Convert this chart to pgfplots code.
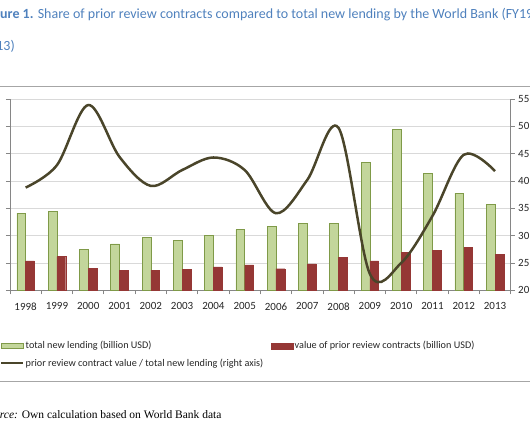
\documentclass[border=0pt]{standalone}
\usepackage{pgfplots}
\usepackage{pgfplotstable}
\pgfplotsset{compat=1.18}
\usepackage{fontspec}
\setmainfont{Carlito}
\newfontfamily\srcfont{Liberation Serif}
\definecolor{lendgreen}{HTML}{C3D69B}
\definecolor{lendedge}{HTML}{7F9A48}
\definecolor{priorred}{HTML}{953735}
\definecolor{ratioline}{HTML}{4A452A}
\definecolor{titleblue}{HTML}{4F81BD}
\definecolor{gridgray}{HTML}{D9D9D9}
\definecolor{axisgray}{HTML}{868686}
\definecolor{framegray}{HTML}{A6A6A6}
\definecolor{labelgray}{HTML}{262626}

\pgfplotstableread{
x year lending prior ratio
0  1998 28.2 10.8 38.8
1  1999 29.0 12.3 42.9
2  2000 15.1  8.0 53.9
3  2001 17.0  7.4 44.4
4  2002 19.4  7.4 39.1
5  2003 18.4  7.7 42.0
6  2004 20.0  8.6 44.3
7  2005 22.2  9.3 42.0
8  2006 23.5  7.9 34.1
9  2007 24.5  9.7 40.2
10 2008 24.5 12.1 49.7
11 2009 46.9 10.8 23.0
12 2010 58.8 13.9 25.0
13 2011 42.9 14.6 33.6
14 2012 35.6 15.7 44.8
15 2013 31.3 13.2 41.8
}\wbdata

\begin{document}
\begin{tikzpicture}[x=1pt,y=1pt]
\path[use as bounding box] (0,0) rectangle (530,442);
\clip (0,0) rectangle (530,442);
\draw[framegray, line width=0.8pt] (-20,61) rectangle (560,356);
\node[anchor=base west, inner sep=0pt, text=titleblue, font=\fontsize{14}{16}\selectfont] at (-16.5,423)
  {\textbf{Figure 1.} Share of prior review contracts compared to total new lending by the World Bank (FY1998--};
\node[anchor=base west, inner sep=0pt, text=titleblue, font=\fontsize{14}{16}\selectfont] at (-18,391) {2013)};

\begin{axis}[
  at={(10pt,151.7pt)}, anchor=south west, scale only axis,
  width=500.7pt, height=191.3pt,
  xmin=-0.5, xmax=15.5, ymin=0, ymax=70,
  ytick={0,10,...,70}, yticklabels={},
  xtick={-0.5,0.5,...,15.5}, x tick label as interval,
  xticklabels={1998,1999,2000,2001,2002,2003,2004,2005,2006,2007,2008,2009,2010,2011,2012,2013},
  axis x line*=bottom, axis y line*=left,
  ymajorgrids, grid style={gridgray, line width=0.8pt},
  axis line style={axisgray, line width=0.8pt},
  tick style={axisgray, line width=0.8pt},
  tick align=outside, major tick length=4pt,
  ybar=0pt, bar width=8.8pt,
  ticklabel style={font=\fontsize{11}{12}\selectfont, text=labelgray},
  xticklabel style={yshift=-5pt},
  legend columns=2, legend cell align=left,
  legend style={at={(-0.02,-0.26)}, anchor=north west, draw=none, fill=none,
    font=\fontsize{10.2}{12}\selectfont, text=labelgray, inner sep=0pt, row sep=6.5pt,
    nodes={inner sep=1pt},
    /tikz/every even column/.append style={column sep=7pt}},
]
\addplot[fill=lendgreen, draw=lendedge, line width=0.6pt,
  legend image code/.code={\draw[fill=lendgreen, draw=lendedge, line width=0.6pt] (0pt,-2.3pt) rectangle (22pt,2.3pt);}]
  table[x=x, y=lending] {\wbdata};
\addlegendentry{total new lending (billion USD)}
\addplot[fill=priorred, draw=priorred, line width=0.4pt,
  legend image code/.code={\draw[fill=priorred, draw=priorred] (0pt,-3pt) rectangle (22pt,3pt);}]
  table[x=x, y=prior] {\wbdata};
\addlegendentry{value of prior review contracts (billion USD)}
\addlegendimage{ratioline, line width=2.5pt, legend image code/.code={\draw[ratioline, line width=2.5pt] (0pt,0pt) -- (22pt,0pt);}}
\addlegendentry{prior review contract value / total new lending (right axis)}
\end{axis}

\begin{axis}[
  at={(10pt,151.7pt)}, anchor=south west, scale only axis,
  width=500.7pt, height=191.3pt,
  xmin=-0.5, xmax=15.5, ymin=20, ymax=55,
  ytick={20,25,...,55},
  axis y line*=right, axis x line=none,
  axis line style={axisgray, line width=0.8pt},
  tick style={axisgray, line width=0.8pt},
  tick align=outside, major tick length=4pt,
  /pgf/number format/assume math mode=true,
  yticklabel style={font=\fontsize{11}{12}\selectfont, text=labelgray, anchor=west, xshift=0pt},
]
\addplot[ratioline, line width=2.5pt, smooth, tension=0.55] table[x=x, y=ratio] {\wbdata};
\end{axis}

\node[anchor=base west, inner sep=0pt, font=\srcfont\fontsize{11.5}{13}\selectfont] at (-17.5,24)
  {\textit{Source:} Own calculation based on World Bank data};
\end{tikzpicture}
\end{document}
